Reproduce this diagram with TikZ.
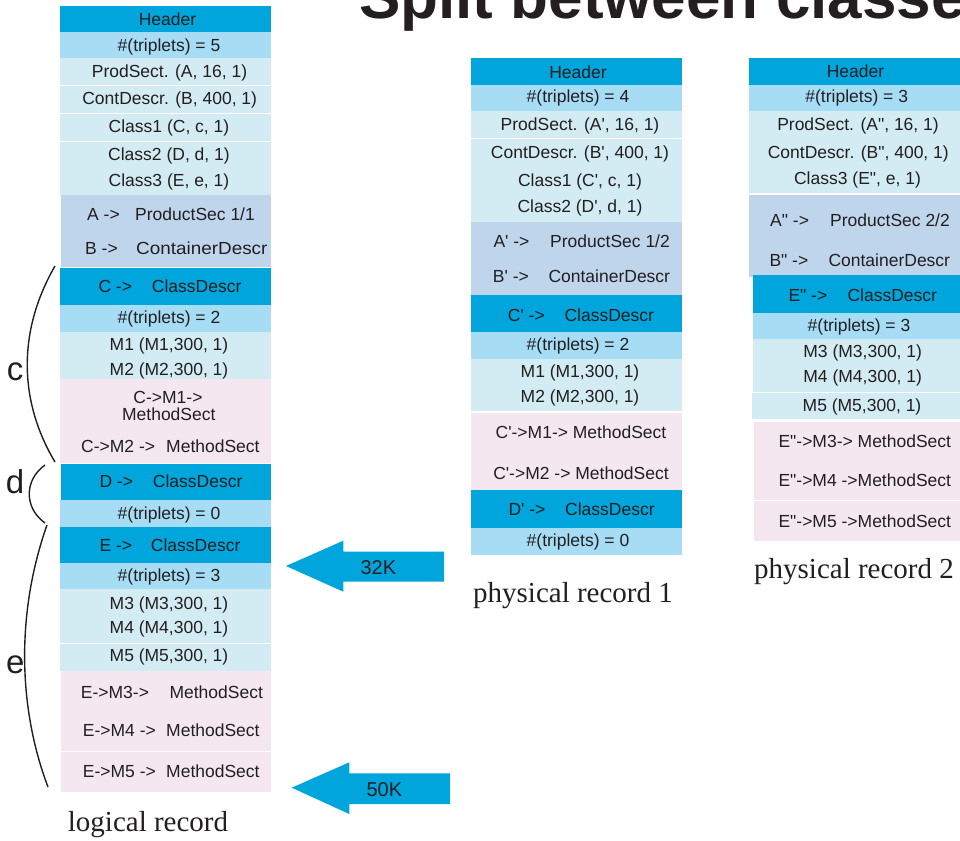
\documentclass[tikz,border=0pt]{standalone}
\usepackage{graphicx}
\usepackage{fontspec}
\setmainfont{Liberation Serif}
\setsansfont{Liberation Sans}
\newfontfamily\rowf{Liberation Sans}
\definecolor{dk}{RGB}{0,165,219}
\definecolor{lt}{RGB}{166,221,245}
\definecolor{pl}{RGB}{211,236,243}
\definecolor{gy}{RGB}{190,213,236}
\definecolor{pk}{RGB}{245,231,240}
\definecolor{ink}{RGB}{35,31,32}
\newcommand\blk[5]{\fill[#5] (#1,#2) rectangle (#3,#4);}
\begin{document}
\begin{tikzpicture}[x=1pt,y=-1pt,
  t/.style={font=\rowf\fontsize{17.5}{19}\selectfont,text=ink,inner sep=0pt,anchor=base},
  tl/.style={t,anchor=base west},
  captxt/.style={font=\rmfamily\fontsize{29}{32}\selectfont,text=ink,inner sep=0pt,anchor=base},
  lab/.style={font=\rowf\fontsize{33}{36}\selectfont,text=ink,inner sep=0pt,anchor=base},
  brace/.style={draw=ink,line width=1.4pt},
  arr/.style={fill=dk},
  arrtxt/.style={font=\rowf\fontsize{20}{22}\selectfont,text=ink,inner sep=0pt,anchor=base},
 ]
\useasboundingbox (0,0) rectangle (960,840);
% title
\node[anchor=base west,font=\rowf\bfseries\fontsize{62}{66}\selectfont,text=ink,inner sep=0pt] (title) at (359,19) {Split between classes};

% ---------- logical record ----------
\blk{60}{6}{271}{32}{dk}
\blk{60}{32}{271}{58}{lt}
\blk{60}{58}{271}{85}{pl}
\blk{60}{86}{271}{113}{pl}
\blk{60}{114}{271}{141}{pl}
\blk{60}{142}{271}{195}{pl}
\blk{61}{195}{270.5}{231.5}{gy}
\blk{61}{231}{271}{267}{gy}
\blk{60}{268}{271}{305}{dk}
\blk{60}{305}{271}{331.5}{lt}
\blk{60}{331.5}{271}{379}{pl}
\blk{60}{379}{270.5}{462.5}{pk}
\blk{61}{463.5}{271}{500}{dk}
\blk{59.5}{500}{270.5}{526.5}{lt}
\blk{60}{526.5}{271}{563.3}{dk}
\blk{60}{563.3}{271}{589.3}{lt}
\blk{60}{589.3}{271}{643}{pl}
\blk{59.5}{644}{270.5}{670.7}{pl}
\blk{60.5}{670.7}{271}{716}{pk}
\blk{60.5}{716}{271}{751}{pk}
\blk{60.5}{752}{271}{791.7}{pk}

\node[t] (lhead) at (167.5,25.3) {Header};
\node[t] (ltrip5) at (169,51.2) {\#(triplets) = 5};
\node[t] (lprod) at (169.5,77.2) {ProdSect. (A, 16, 1)};
\node[t] (lcont) at (169.7,104.5) {ContDescr. (B, 400, 1)};
\node[t] (lcl1) at (169,132.8) {Class1 (C, c, 1)};
\node[t] (lcl2) at (169,160.5) {Class2 (D, d, 1)};
\node[t] (lcl3) at (169,186.2) {Class3 (E, e, 1)};
\node[tl] (lA) at (87,220) {A ->};
\node[tl] (lAt) at (135,220) {ProductSec 1/1};
\node[tl] (lB) at (85,254.3) {B ->};
\node[tl] (lBt) at (136,254.3) {\scalebox{1.08}[1]{ContainerDescr}};
\node[tl] (lC) at (98.3,292.7) {C ->};
\node[tl] (lCt) at (151.7,292.7) {ClassDescr};
\node[t] (ltrip2) at (169,323.8) {\#(triplets) = 2};
\node[t] (lm1) at (169,350.5) {M1 (M1,300, 1)};
\node[t] (lm2) at (169,375.5) {M2 (M2,300, 1)};
\node[t] (lcm1) at (168,403.3) {C->M1->};
\node[t] (lcm1b) at (168.8,420) {MethodSect};
\node[tl] (lcm2) at (81,452) {C->M2 ->};
\node[tl] (lcm2b) at (166,452) {MethodSect};
\node[tl] (lD) at (99.3,487.7) {D ->};
\node[tl] (lDt) at (152.7,487.7) {ClassDescr};
\node[t] (ltrip0) at (169,519.5) {\#(triplets) = 0};
\node[tl] (lE) at (99.3,551) {E ->};
\node[tl] (lEt) at (150.7,551) {ClassDescr};
\node[t] (ltrip3) at (169,581.8) {\#(triplets) = 3};
\node[t] (lm3) at (169,609.5) {M3 (M3,300, 1)};
\node[t] (lm4) at (169,633.8) {M4 (M4,300, 1)};
\node[t] (lm5) at (169,661.2) {M5 (M5,300, 1)};
\node[tl] (lem3) at (80.7,698.7) {E->M3->};
\node[tl] (lem3b) at (169.3,698.7) {MethodSect};
\node[tl] (lem4) at (82.7,736.7) {E->M4 ->};
\node[tl] (lem4b) at (166,736.7) {MethodSect};
\node[tl] (lem5) at (82.7,777.7) {E->M5 ->};
\node[tl] (lem5b) at (166,777.7) {MethodSect};
\node[captxt] (lcap) at (148,831.7) {logical record};

% braces
\draw[brace] (55,266) .. controls (18,330) and (18,400) .. (55,462);
\draw[brace] (45,465) .. controls (24,480) and (24,508) .. (45,523);
\draw[brace] (47,525) .. controls (17,610) and (17,705) .. (48,787);
\node[lab] (labc) at (15,380) {c};
\node[lab] (labd) at (15,493.3) {d};
\node[lab] (labe) at (15.3,673.3) {e};

% arrows
\fill[arr] (286,566) -- (343.3,540.7) -- (343.3,551.7) -- (444,551.7) -- (444,581.7) -- (343.3,581.7) -- (343.3,591.7) -- cycle;
\node[arrtxt] (k32) at (378.3,574.5) {32K};
\fill[arr] (291.7,787.7) -- (349.3,762.3) -- (349.3,773.3) -- (450,773.3) -- (450,804) -- (349.3,804) -- (349.3,814) -- cycle;
\node[arrtxt] (k50) at (384.3,796.5) {50K};

% ---------- physical record 1 ----------
\blk{471}{58}{682}{84.7}{dk}
\blk{471}{84.7}{682}{111}{lt}
\blk{471}{111}{682}{138}{pl}
\blk{471}{138.7}{682}{165.7}{pl}
\blk{471}{166.3}{682}{193.7}{pl}
\blk{471}{194.3}{682}{221.7}{pl}
\blk{471}{221.7}{682}{295}{gy}
\blk{471}{295}{682}{332.3}{dk}
\blk{471}{332.3}{682}{359.3}{lt}
\blk{471}{359.3}{682}{411}{pl}
\blk{471}{412.7}{682}{490}{pk}
\blk{471}{490}{682}{528.3}{dk}
\blk{471}{528.3}{682}{555}{lt}

\node[t] (mhead) at (578,78.7) {Header};
\node[t] (mtrip4) at (578,102.8) {\#(triplets) = 4};
\node[t] (mprod) at (580,130.5) {ProdSect. (A', 16, 1)};
\node[t] (mcont) at (580,158.5) {ContDescr. (B', 400, 1)};
\node[t] (mcl1) at (580,186.2) {Class1 (C', c, 1)};
\node[t] (mcl2) at (580,212.8) {Class2 (D', d, 1)};
\node[tl] (mA) at (493.3,247) {A' ->};
\node[tl] (mAt) at (550,247) {ProductSec 1/2};
\node[tl] (mB) at (492.7,282.7) {B' ->};
\node[tl] (mBt) at (548.3,282.7) {ContainerDescr};
\node[tl] (mC) at (507.7,321) {C' ->};
\node[tl] (mCt) at (564.3,321) {ClassDescr};
\node[t] (mtrip2) at (578,350.5) {\#(triplets) = 2};
\node[t] (mm1) at (580,377.2) {M1 (M1,300, 1)};
\node[t] (mm2) at (580,402.8) {M2 (M2,300, 1)};
\node[t] (mcm1) at (581,438.7) {C'->M1-> MethodSect};
\node[t] (mcm2) at (581,479) {C'->M2 -> MethodSect};
\node[tl] (mD) at (508.3,515.3) {D' ->};
\node[tl] (mDt) at (565,515.3) {ClassDescr};
\node[t] (mtrip0) at (578,546.2) {\#(triplets) = 0};
\node[captxt] (mcap) at (573,602) {physical record 1};

% ---------- physical record 2 ----------
\blk{749}{58}{960}{84.7}{dk}
\blk{749}{84.7}{960}{111}{lt}
\blk{749}{111}{960}{137.7}{pl}
\blk{749}{138.3}{960}{192.7}{pl}
\blk{749}{195}{960}{276.7}{gy}
\blk{753}{275}{960}{313.3}{dk}
\blk{753}{313.3}{960}{339.3}{lt}
\blk{753}{339.3}{960}{391.7}{pl}
\blk{751.7}{393.3}{960}{419.3}{pl}
\blk{754}{422}{960}{460}{pk}
\blk{754}{460}{960}{500}{pk}
\blk{754}{501}{960}{540.7}{pk}

\node[t] (rhead) at (855.5,77.7) {Header};
\node[t] (rtrip3) at (856.7,102.8) {\#(triplets) = 3};
\node[t] (rprod) at (858,130.5) {ProdSect. (A", 16, 1)};
\node[t] (rcont) at (858.3,158.8) {ContDescr. (B", 400, 1)};
\node[t] (rcl3) at (857.5,184.5) {Class3 (E", e, 1)};
\node[tl] (rA) at (770,226) {A" ->};
\node[tl] (rAt) at (830,226) {ProductSec 2/2};
\node[tl] (rB) at (769.3,266) {B" ->};
\node[tl] (rBt) at (828.3,266) {ContainerDescr};
\node[tl] (rE) at (788.3,301) {E" ->};
\node[tl] (rEt) at (847.3,301) {ClassDescr};
\node[t] (rtrip3b) at (859,331.8) {\#(triplets) = 3};
\node[t] (rm3) at (862.7,357.8) {M3 (M3,300, 1)};
\node[t] (rm4) at (862.7,382.8) {M4 (M4,300, 1)};
\node[t] (rm5) at (862,411.2) {M5 (M5,300, 1)};
\node[t] (rem3) at (864.8,447.7) {E"->M3-> MethodSect};
\node[t] (rem4) at (864.8,486) {E"->M4 ->MethodSect};
\node[t] (rem5) at (864.8,527.7) {E"->M5 ->MethodSect};
\node[captxt] (rcap) at (854,578.3) {physical record 2};
\end{tikzpicture}
\end{document}
